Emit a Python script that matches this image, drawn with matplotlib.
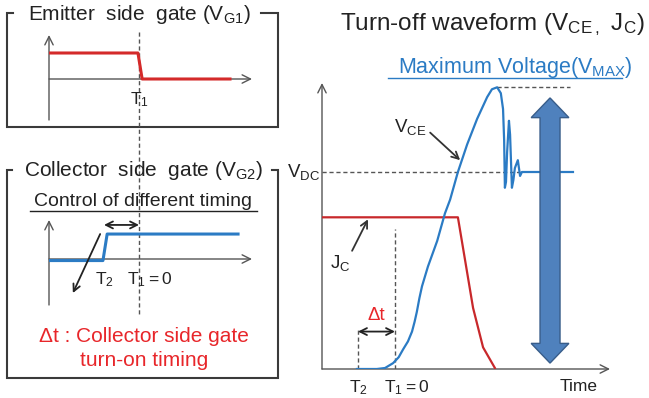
import matplotlib
matplotlib.use('Agg')
import matplotlib.pyplot as plt
from matplotlib.patches import Polygon

plt.rcParams['font.family'] = ['Liberation Sans', 'DejaVu Sans']

# time in units of dt (T1 = 0, T2 = -1)
# emitter side gate V_G1
vg1_t = [-2.57, -0.03, 0.09, 2.6]
vg1_v = [1.0, 1.0, 0.0, 0.0]
# collector side gate V_G2
vg2_t = [-2.57, -1.03, -0.91, 2.83]
vg2_v = [-0.06, -0.06, 0.96, 0.96]

# turn-off waveform, voltage normalised to V_DC
vce_t = [-1.03, -0.49, -0.27, -0.05, 0.10, 0.22, 0.35, 0.46, 0.53, 0.59, 0.66, 0.73, 0.89,
         1.14, 1.35, 1.49, 1.70, 1.95, 2.22, 2.49, 2.62, 2.76, 2.86, 2.92, 2.95, 2.97,
         3.00, 3.03, 3.08, 3.11, 3.16, 3.20, 3.24, 3.32, 3.38, 3.43, 4.81]
vce_v = [0.0, 0.0, 0.005, 0.03, 0.06, 0.10, 0.14, 0.19, 0.24, 0.29, 0.36, 0.42, 0.52,
         0.65, 0.79, 0.86, 1.0, 1.14, 1.27, 1.38, 1.42, 1.43, 1.40, 1.32, 1.16, 0.92,
         0.95, 1.10, 1.26, 1.19, 0.92, 0.96, 1.02, 1.06, 0.98, 1.0, 1.0]
jc_t = [-1.97, 1.70, 2.11, 2.38, 2.70]
jc_v = [0.77, 0.77, 0.31, 0.11, 0.005]

t2, t1 = -1.0, 0.0
v_dc, v_max = 1.0, 1.43

RED = '#d42a2a'
BLUE = '#2b7bc4'
GRAY = '#555555'
TXT = '#222222'

W, H = 649, 398
fig = plt.figure(figsize=(W / 100, H / 100), dpi=100)

# overlay in pixel units for frames and titles
ax0 = fig.add_axes([0, 0, 1, 1])
ax0.set_xlim(0, W)
ax0.set_ylim(H, 0)
ax0.axis('off')


def panel(x0, x1, y0, y1, ox, oy, sx, sy):
    ax = fig.add_axes([x0 / W, 1 - y1 / H, (x1 - x0) / W, (y1 - y0) / H])
    ax.set_xlim((x0 - ox) / sx, (x1 - ox) / sx)
    ax.set_ylim((oy - y1) / sy, (oy - y0) / sy)
    ax.axis('off')
    ax.patch.set_alpha(0)
    return ax


def axes_arrows(ax):
    x0, x1 = ax.get_xlim()
    y0, y1 = ax.get_ylim()
    kw = dict(arrowstyle='->,head_length=0.6,head_width=0.3', color=GRAY, lw=1,
              shrinkA=0, shrinkB=0)
    ax.annotate('', xy=(x1, 0), xytext=(x0, 0), arrowprops=kw)
    ax.annotate('', xy=(x0, y1), xytext=(x0, y0), arrowprops=kw)


def arrow(ax, xy, xytext, style='->', color='#222222'):
    ax.annotate('', xy=xy, xytext=xytext,
                arrowprops=dict(arrowstyle=style + ',head_length=0.5,head_width=0.25',
                                color=color, lw=1.3, shrinkA=0, shrinkB=0))


# frames with a gap for the title
frame = dict(color='#3a3a3a', lw=1.5, solid_joinstyle='miter')
ax0.plot([13, 7, 7, 278, 278, 261], [13, 13, 127, 127, 13, 13], **frame)
ax0.plot([12, 7, 7, 278, 278, 272], [170, 170, 378, 378, 170, 170], **frame)
ax0.text(139, 14, r'Emitter  side  gate ($\mathregular{V_{G1}}$)', ha='center', va='center',
         fontsize=15, color=TXT)
ax0.text(144, 171, r'Collector  side  gate ($\mathregular{V_{G2}}$)', ha='center', va='center',
         fontsize=15, color=TXT)
ax0.text(143, 201, 'Control of different timing', ha='center', va='center', fontsize=14, color=TXT)
ax0.plot([30, 257], [211, 211], color=TXT, lw=1)
ax0.text(144, 337, u'\u0394t : Collector side gate', ha='center', va='center', fontsize=15, color='#e8262a')
ax0.text(144, 360, 'turn-on timing', ha='center', va='center', fontsize=15, color='#e8262a')
ax0.plot([139, 139], [32, 315], color=GRAY, lw=1, ls=(0, (3, 2)))

ax0.text(492, 25, r'Turn-off waveform ($\mathregular{V_{CE\,,}\ J_C}$)', ha='center', va='center',
         fontsize=17.5, color=TXT)
ax0.text(515, 68, r'Maximum Voltage($\mathregular{V_{MAX}}$)', ha='center', va='center',
         fontsize=15.5, color=BLUE)
ax0.plot([388, 622], [78, 78], color=BLUE, lw=1)

# emitter side gate
ax1 = panel(49, 252, 35, 120, 139, 79, 35, 26)
axes_arrows(ax1)
ax1.plot(vg1_t, vg1_v, color=RED, lw=2.2, zorder=3)
ax1.text(t1, -0.8, r'$\mathregular{T_1}$', ha='center', va='center', fontsize=12.5, color=TXT)

# collector side gate
ax2 = panel(49, 252, 220, 305, 139, 259, 35, 26)
axes_arrows(ax2)
ax2.plot(vg2_t, vg2_v, color=BLUE, lw=2.2, zorder=3)
arrow(ax2, (t1, 1.31), (t2, 1.31), '<->')
arrow(ax2, (-1.89, -1.31), (-1.11, 0.96))
ax2.text(t2, -0.81, r'$\mathregular{T_2}$', ha='center', va='center', fontsize=12.5, color=TXT)
ax2.text(0.31, -0.81, r'$\mathregular{T_1 = 0}$', ha='center', va='center', fontsize=12.5, color=TXT)

# turn-off waveform
ax3 = panel(322, 610, 83, 369, 395, 369, 37, 197)
axes_arrows(ax3)
ax3.plot([-1.97, 3.38], [v_dc, v_dc], color=GRAY, lw=1, ls=(0, (3, 2)))
ax3.plot([2.76, 4.73], [v_max, v_max], color=GRAY, lw=1, ls=(0, (3, 2)))
ax3.plot([t2, t2], [0, 0.2], color=GRAY, lw=1, ls=(0, (3, 2)))
ax3.plot([t1, t1], [0, 0.71], color=GRAY, lw=1, ls=(0, (3, 2)))
ax3.plot(jc_t, jc_v, color='#c8282b', lw=1.6, zorder=3)
ax3.plot(vce_t, vce_v, color=BLUE, lw=1.6, zorder=3)

c, top, bot, sw, hw, hl = 4.19, 1.376, 0.03, 0.27, 0.51, 0.10
big = Polygon([(c, top), (c + hw, top - hl), (c + sw, top - hl), (c + sw, bot + hl),
               (c + hw, bot + hl), (c, bot), (c - hw, bot + hl), (c - sw, bot + hl),
               (c - sw, top - hl), (c - hw, top - hl)],
              closed=True, facecolor='#4f81bd', edgecolor='#385d8a', lw=1, zorder=5)
ax3.add_patch(big)

arrow(ax3, (t1, 0.19), (t2, 0.19), '<->')
ax3.text(-0.5, 0.27, u'\u0394t', ha='center', va='center', fontsize=13.5, color='#e8262a')
arrow(ax3, (1.76, 1.06), (0.95, 1.20), color='#333333')
ax3.text(0.41, 1.23, r'$\mathregular{V_{CE}}$', ha='center', va='center', fontsize=13.5, color=TXT)
arrow(ax3, (-0.73, 0.76), (-1.16, 0.60), color='#333333')
ax3.text(-1.49, 0.54, r'$\mathregular{J_C}$', ha='center', va='center', fontsize=13.5, color=TXT)
ax3.text(-2.03, v_dc, r'$\mathregular{V_{DC}}$', ha='right', va='center', fontsize=13.5, color=TXT)
ax3.text(t2, -0.096, r'$\mathregular{T_2}$', ha='center', va='center', fontsize=12.5, color=TXT)
ax3.text(0.32, -0.096, r'$\mathregular{T_1{=}0}$', ha='center', va='center', fontsize=12.5, color=TXT)
ax3.text(4.95, -0.09, 'Time', ha='center', va='center', fontsize=12.5, color=TXT)

fig.savefig('out.png', dpi=100)
